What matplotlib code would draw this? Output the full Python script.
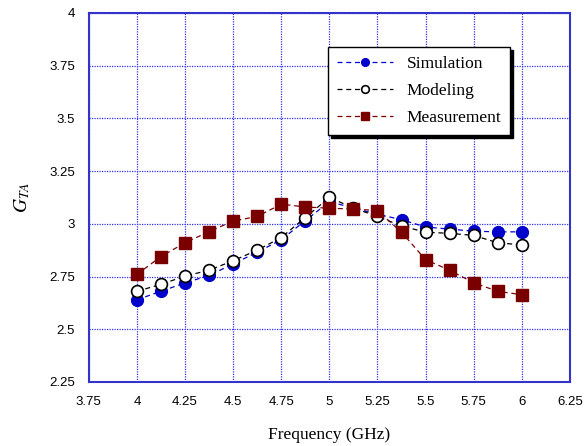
import matplotlib.pyplot as plt
import numpy as np

# data
freq = [4.0, 4.125, 4.25, 4.375, 4.5, 4.625, 4.75, 4.875, 5.0,
        5.125, 5.25, 5.375, 5.5, 5.625, 5.75, 5.875, 6.0]
simulation = [2.64, 2.68, 2.72, 2.755, 2.81, 2.865, 2.925, 3.015, 3.105,
              3.075, 3.045, 3.02, 2.985, 2.975, 2.965, 2.962, 2.962]
modeling = [2.68, 2.713, 2.752, 2.78, 2.825, 2.875, 2.935, 3.03, 3.125,
            3.075, 3.035, 2.99, 2.96, 2.955, 2.945, 2.91, 2.90]
measurement = [2.76, 2.845, 2.91, 2.963, 3.013, 3.035, 3.093, 3.08, 3.074,
               3.07, 3.063, 2.96, 2.83, 2.78, 2.72, 2.68, 2.664]

xticks = [3.75, 4, 4.25, 4.5, 4.75, 5, 5.25, 5.5, 5.75, 6, 6.25]
yticks = [2.25, 2.5, 2.75, 3, 3.25, 3.5, 3.75, 4]

plt.rcParams['mathtext.fontset'] = 'stix'

fig = plt.figure(figsize=(5.84, 4.46), dpi=100)
ax = fig.add_axes([0.152, 0.1435, 0.824, 0.8275])

blue = '#0000cc'
red = '#7a0000'
ax.plot(freq, simulation, linestyle=(0, (4, 3)), color=blue, lw=0.9,
        marker='o', ms=8.5, mfc=blue, mec=blue, label='Simulation', zorder=3)
ax.plot(freq, modeling, linestyle=(0, (4, 3)), color='black', lw=0.9,
        marker='o', ms=8.5, mfc='white', mec='black', mew=1.2, label='Modeling', zorder=4)
ax.plot(freq, measurement, linestyle=(0, (4, 3)), color=red, lw=0.9,
        marker='s', ms=8.5, mfc=red, mec=red, label='Measurement', zorder=5)

ax.set_xlim(3.75, 6.25)
ax.set_ylim(2.25, 4)
ax.set_xticks(xticks)
ax.set_yticks(yticks)
ax.set_xticklabels([f'{t:g}' for t in xticks])
ax.set_yticklabels([f'{t:g}' for t in yticks])
ax.tick_params(length=0, pad=10, labelsize=9.5)
for lab in ax.get_xticklabels() + ax.get_yticklabels():
    lab.set_family('Liberation Sans')
ax.grid(True, color='#3333ee', linestyle=(0, (1, 1)), lw=0.9)
for s in ax.spines.values():
    s.set_color('#3333cc')
    s.set_linewidth(1.5)

ax.set_xlabel('Frequency (GHz)', family='Liberation Serif', fontsize=12.5, labelpad=14)
ax.set_ylabel('$G_{TA}$', fontsize=14, labelpad=12)

leg = ax.legend(loc='upper left', bbox_to_anchor=(0.48, 0.93), frameon=True,
                fancybox=False, shadow={'color': 'black', 'alpha': 1},
                prop={'family': 'Liberation Serif', 'size': 12.5},
                handlelength=3.2, borderpad=0.5, labelspacing=0.62,
                markerscale=0.65)
leg.get_frame().set_edgecolor('black')
leg.get_frame().set_linewidth(1.0)

fig.savefig('out.png', dpi=100)
